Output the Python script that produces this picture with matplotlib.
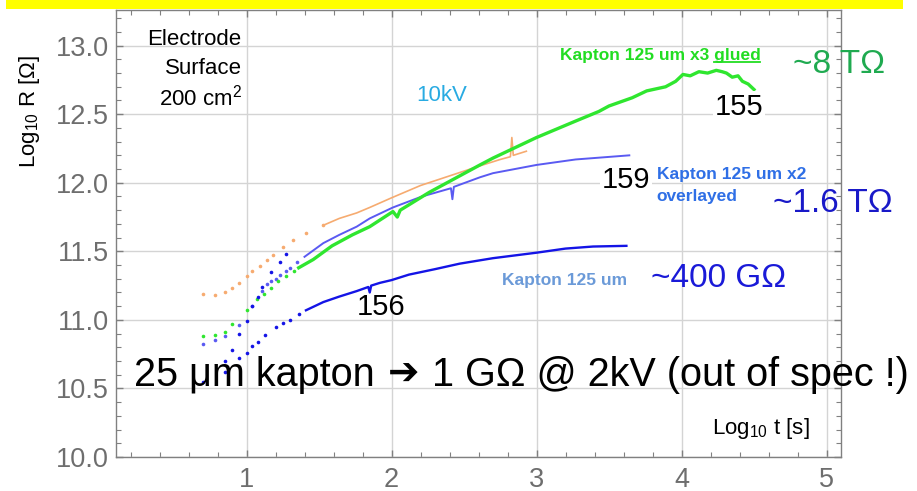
import numpy as np
import matplotlib
matplotlib.use("Agg")
import matplotlib.pyplot as plt
from matplotlib.patches import Rectangle
from matplotlib.ticker import MultipleLocator, FormatStrFormatter

plt.rcParams['font.family'] = ['Liberation Sans', 'DejaVu Sans']
plt.rcParams['mathtext.default'] = 'regular'

# log10(t[s]) vs log10(R[Ohm]) for the kapton samples at 10 kV
# sparse early readings are drawn as dots, the dense part as a trace
orange_dot_t = [0.70, 0.78, 0.85, 0.90, 0.95, 1.00, 1.04, 1.09, 1.14, 1.18, 1.25, 1.32, 1.41, 1.53]
orange_dot_R = [11.19, 11.18, 11.20, 11.23, 11.27, 11.32, 11.36, 11.39, 11.44, 11.47, 11.53, 11.58, 11.63, 11.69]
orange_t = [1.53, 1.64, 1.76, 1.85, 2.00, 2.20, 2.40, 2.60, 2.75, 2.82, 2.83, 2.84, 2.93]
orange_R = [11.69, 11.74, 11.78, 11.82, 11.89, 11.98, 12.05, 12.12, 12.17, 12.19, 12.33, 12.20, 12.23]

green_dot_t = [0.70, 0.78, 0.85, 0.90, 1.00, 1.07, 1.12, 1.17, 1.22, 1.27, 1.33]
green_dot_R = [10.885, 10.89, 10.91, 10.97, 11.07, 11.15, 11.19, 11.23, 11.28, 11.32, 11.36]
green_t = [1.36, 1.46, 1.59, 1.73, 1.85, 2.01, 2.04, 2.06, 2.26, 2.47, 2.61, 2.70, 3.00, 3.27,
           3.43, 3.50, 3.66, 3.76, 3.89, 3.96, 4.01, 4.06, 4.12, 4.18, 4.24, 4.28, 4.31, 4.35,
           4.39, 4.42, 4.46, 4.50]
green_R = [11.38, 11.44, 11.54, 11.62, 11.68, 11.79, 11.75, 11.80, 11.93, 12.05, 12.13, 12.18, 12.33, 12.45,
           12.52, 12.56, 12.62, 12.67, 12.70, 12.74, 12.79, 12.78, 12.81, 12.80, 12.82, 12.81, 12.80, 12.77,
           12.78, 12.74, 12.72, 12.68]

violet_dot_t = [0.70, 0.78, 0.85, 0.95, 1.04, 1.11, 1.14, 1.17, 1.20, 1.23, 1.27, 1.30, 1.35]
violet_dot_R = [10.825, 10.85, 10.88, 10.96, 11.10, 11.21, 11.26, 11.28, 11.30, 11.33, 11.36, 11.38, 11.42]
violet_t = [1.40, 1.53, 1.64, 1.76, 1.85, 2.01, 2.21, 2.41, 2.42, 2.43, 2.61, 2.70, 3.00, 3.27, 3.64]
violet_R = [11.46, 11.56, 11.62, 11.68, 11.74, 11.82, 11.90, 11.96, 11.88, 11.97, 12.04, 12.07, 12.13, 12.17, 12.20]

steep_dot_t = [0.85, 0.90, 0.95, 1.00, 1.04, 1.08, 1.11, 1.17, 1.23, 1.27]
steep_dot_R = [10.70, 10.78, 10.90, 10.99, 11.10, 11.17, 11.24, 11.35, 11.42, 11.48]

blue_dot_t = [0.70, 0.85, 0.95, 1.00, 1.04, 1.08, 1.13, 1.20, 1.25, 1.30, 1.36]
blue_dot_R = [10.55, 10.62, 10.72, 10.76, 10.81, 10.84, 10.89, 10.95, 10.98, 11.00, 11.04]
blue_t = [1.41, 1.53, 1.64, 1.76, 1.84, 1.85, 1.86, 1.92, 2.00, 2.12, 2.30, 2.47, 2.70, 3.00, 3.20, 3.39, 3.62]
blue_R = [11.07, 11.13, 11.17, 11.21, 11.24, 11.20, 11.25, 11.27, 11.29, 11.33, 11.37, 11.41, 11.45, 11.49,
          11.52, 11.535, 11.54]

c_orange = '#f6ab70'
c_green = '#2fe62f'
c_violet = '#5a5af2'
c_blue = '#1414e6'

fig = plt.figure(figsize=(9.17, 4.91), dpi=100)
ax = fig.add_axes([116 / 917, 1 - 457 / 491, 725 / 917, 447 / 491])

# yellow banner strip across the top
fig.patches.append(Rectangle((6 / 917, 1 - 9 / 491), 897 / 917, 9 / 491,
                             transform=fig.transFigure, facecolor='#ffff00', edgecolor='none'))

ms = 2.6
ax.plot(orange_dot_t, orange_dot_R, 'o', color=c_orange, ms=ms, mew=0)
ax.plot(orange_t, orange_R, '-', color=c_orange, lw=1.2)
ax.plot(violet_dot_t, violet_dot_R, 'o', color=c_violet, ms=ms, mew=0)
ax.plot(violet_t, violet_R, '-', color=c_violet, lw=1.4)
ax.plot(green_dot_t, green_dot_R, 'o', color=c_green, ms=ms, mew=0)
ax.plot(green_t, green_R, '-', color=c_green, lw=2.4)
ax.plot(steep_dot_t, steep_dot_R, 'o', color=c_blue, ms=ms, mew=0)
ax.plot(blue_dot_t, blue_dot_R, 'o', color=c_blue, ms=ms, mew=0)
ax.plot(blue_t, blue_R, '-', color=c_blue, lw=1.7)

ax.set_xlim(0.1, 5.1)
ax.set_ylim(10.0, 13.26)
ax.xaxis.set_major_locator(MultipleLocator(1))
ax.xaxis.set_minor_locator(MultipleLocator(0.2))
ax.yaxis.set_major_locator(MultipleLocator(0.5))
ax.yaxis.set_minor_locator(MultipleLocator(0.1))
ax.yaxis.set_major_formatter(FormatStrFormatter('%.1f'))
ax.tick_params(which='both', direction='in', top=True, right=True, color='#808080')
ax.tick_params(which='major', length=5, width=1)
ax.tick_params(which='minor', length=3.5, width=0.8)
ax.tick_params(axis='both', labelsize=19.5, labelcolor='#6e6e6e')
ax.tick_params(axis='x', pad=7)
ax.tick_params(axis='y', pad=5)
for s in ax.spines.values():
    s.set_color('#808080')
    s.set_linewidth(1.0)
ax.grid(True, which='major', color='#d4d4d4', lw=1.0)
ax.set_axisbelow(True)

ax.text(-0.119, 0.774, 'Log$_{10}$ R [Ω]', transform=ax.transAxes, rotation=90,
        ha='center', va='center', fontsize=16)
ax.text(4.21, 10.205, 'Log$_{10}$ t [s]', ha='left', va='center', fontsize=16)

for txt, yy in [('Electrode', 13.044), ('Surface', 12.83), ('200 cm$^2$', 12.62)]:
    ax.text(0.966, yy, txt, ha='right', va='center', fontsize=16)

ax.text(2.17, 12.64, '10kV', color='#29abe2', ha='left', va='center', fontsize=16)

# sample labels
glued = ax.text(3.16, 12.93, 'Kapton 125 um x3 glued', color='#22dd22', fontweight='bold',
                ha='left', va='center', fontsize=12.5)
ax.text(3.83, 12.06, 'Kapton 125 um x2', color='#2f6fe6', fontweight='bold',
        ha='left', va='center', fontsize=12.5)
ax.text(3.83, 11.90, 'overlayed', color='#2f6fe6', fontweight='bold',
        ha='left', va='center', fontsize=12.5)
ax.text(2.76, 11.285, 'Kapton 125 um', color='#6b9ad8', fontweight='bold',
        ha='left', va='center', fontsize=12.5)

ax.text(4.77, 12.86, '~8 TΩ', color='#1faa50', ha='left', va='center', fontsize=24, clip_on=False)
ax.text(4.63, 11.85, '~1.6 TΩ', color='#1919c8', ha='left', va='center', fontsize=24, clip_on=False)
ax.text(3.79, 11.30, '~400 GΩ', color='#1a1ad8', ha='left', va='center', fontsize=24)

box = dict(facecolor='white', edgecolor='none', pad=1)
ax.text(4.23, 12.555, '155', ha='left', va='center', fontsize=21, bbox=box)
ax.text(3.45, 12.02, '159', ha='left', va='center', fontsize=21, bbox=box)
ax.text(1.76, 11.095, '156', ha='left', va='center', fontsize=21)

fig.canvas.draw()
r = fig.canvas.get_renderer()
inv = fig.transFigure.inverted()

# spec note: text, a heavy arrow, then the rest, laid out piece by piece
note_y = 1 - 375 / 491
part1 = fig.text(134 / 917, note_y, '25 μm kapton ', ha='left', va='center', fontsize=28.5)
bb1 = part1.get_window_extent(r)
arrow = fig.text(inv.transform((bb1.x1 + 2, 0))[0], note_y, '➔', ha='left', va='center',
                 fontsize=27, family='DejaVu Sans')
bb2 = arrow.get_window_extent(r)
fig.text(inv.transform((bb2.x1 + 2, 0))[0], note_y, ' 1 GΩ @ 2kV (out of spec !)',
         ha='left', va='center', fontsize=28.5)

# underline the word "glued"
bb = glued.get_window_extent(r)
probe = ax.text(0, 0, 'glued', fontweight='bold', fontsize=12.5)
w = probe.get_window_extent(r).width
probe.remove()
x0, y0 = inv.transform((bb.x1 - w, bb.y0 + 1))
x1, _ = inv.transform((bb.x1, bb.y0 + 1))
fig.add_artist(plt.Line2D([x0, x1], [y0, y0], transform=fig.transFigure, color='#22dd22', lw=1.3))

fig.savefig('out.png', dpi=100, facecolor='white')
